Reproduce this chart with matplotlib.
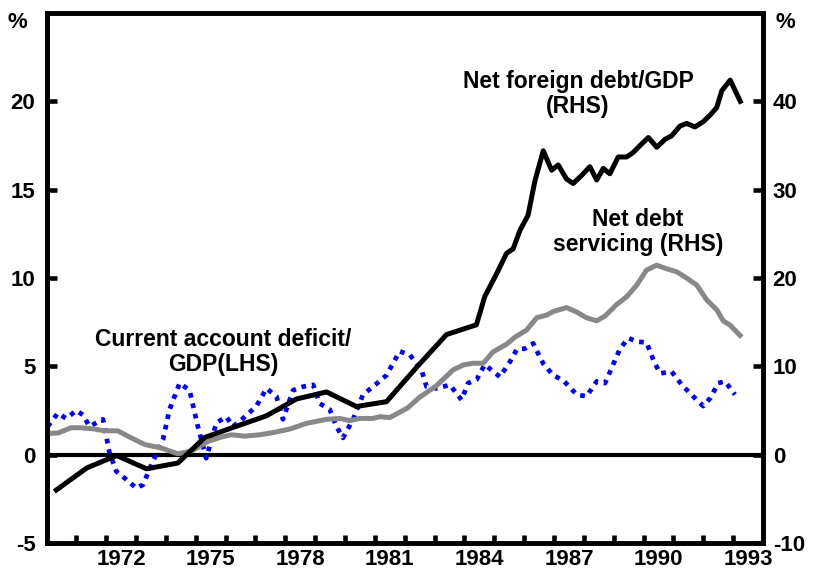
import matplotlib
matplotlib.use("Agg")
import matplotlib.pyplot as plt
import numpy as np

plt.rcParams['font.family'] = ['Liberation Sans', 'DejaVu Sans']
plt.rcParams['font.weight'] = 'bold'

# Net foreign debt / GDP (RHS, %)
nfd_x = [1970.33, 1971.35, 1972.35, 1973.35, 1974.40, 1975.30, 1976.35, 1977.37, 1978.37,
         1979.38, 1980.38, 1981.39, 1982.40, 1983.40, 1984.40,
         1984.68, 1985.08, 1985.41, 1985.63, 1985.86, 1986.13, 1986.36, 1986.64, 1986.92,
         1987.14, 1987.42, 1987.64, 1987.92, 1988.20, 1988.43, 1988.65, 1988.87, 1989.15,
         1989.43, 1989.65, 1989.94, 1990.16, 1990.44, 1990.72, 1990.94, 1991.22, 1991.44,
         1991.72, 1992.00, 1992.23, 1992.45, 1992.62, 1992.90, 1993.24]
nfd_y = [-4.0, -1.5, -0.1, -1.6, -0.95, 1.95, 3.2, 4.4, 6.3,
         7.1, 5.45, 6.0, 9.9, 13.6, 14.7,
         17.9, 20.5, 22.8, 23.3, 25.4, 27.1, 31.0, 34.4, 32.2,
         32.8, 31.2, 30.7, 31.6, 32.6, 31.1, 32.4, 31.8, 33.7,
         33.7, 34.2, 35.2, 35.9, 34.8, 35.7, 36.1, 37.2, 37.5,
         37.1, 37.7, 38.45, 39.3, 41.2, 42.4, 40.0]

# Net debt servicing (RHS, %)
nds_x = [1970.03, 1970.38, 1970.83, 1971.16, 1971.61, 1971.94, 1972.39, 1972.84, 1973.29,
         1973.85, 1974.40, 1974.85, 1975.41, 1975.86, 1976.19, 1976.64, 1977.14, 1977.59,
         1978.15, 1978.71, 1979.38, 1979.82, 1980.16, 1980.49, 1980.94, 1981.16, 1981.50,
         1981.83, 1982.10, 1982.50, 1983.06, 1983.62, 1983.96, 1984.29, 1984.63, 1984.96,
         1985.41, 1985.69, 1986.08, 1986.42, 1986.75, 1986.97, 1987.42, 1987.76, 1988.09,
         1988.43, 1988.71, 1989.10, 1989.44, 1989.77, 1990.10, 1990.44, 1990.77, 1991.11,
         1991.44, 1991.78, 1992.12, 1992.45, 1992.67, 1992.90, 1993.23]
nds_y = [2.4, 2.45, 3.05, 3.05, 2.9, 2.7, 2.7, 1.9, 1.15,
         0.75, 0.1, 0.4, 1.5, 2.0, 2.25, 2.1, 2.25, 2.5,
         2.9, 3.55, 4.0, 4.1, 3.85, 4.1, 4.1, 4.3, 4.2,
         4.8, 5.3, 6.5, 7.8, 9.6, 10.15, 10.35, 10.35, 11.65,
         12.5, 13.3, 14.1, 15.5, 15.8, 16.2, 16.65, 16.15, 15.5,
         15.15, 15.7, 17.0, 17.9, 19.2, 20.9, 21.45, 21.05, 20.7,
         20.0, 19.2, 17.5, 16.4, 15.15, 14.65, 13.5]

# Current account deficit / GDP (LHS, %)
cad_x = [1970.04, 1970.38, 1970.66, 1971.00, 1971.22, 1971.44, 1971.89, 1972.11, 1972.34,
         1972.67, 1973.01, 1973.23, 1973.56, 1973.90, 1974.12, 1974.46, 1974.79, 1975.07,
         1975.35, 1975.69, 1976.02, 1976.25, 1976.58, 1977.03, 1977.37, 1977.70, 1977.92,
         1978.26, 1978.59, 1978.93, 1979.15, 1979.49, 1979.71, 1979.93, 1980.27, 1980.60,
         1980.94, 1981.39, 1981.83, 1982.17, 1982.56, 1982.73, 1983.06, 1983.51, 1983.90,
         1984.12, 1984.41, 1984.68, 1985.19, 1985.52, 1985.75, 1986.02, 1986.30, 1986.64,
         1986.97, 1987.31, 1987.76, 1988.09, 1988.43, 1988.71, 1988.93, 1989.21, 1989.49,
         1989.77, 1990.10, 1990.33, 1990.55, 1990.94, 1991.28, 1991.72, 1992.00, 1992.23,
         1992.50, 1992.73, 1993.06]
cad_y = [1.6, 2.35, 2.05, 2.5, 2.25, 1.6, 2.0, 0.1, -0.95,
         -1.4, -1.9, -1.7, -0.4, 0.85, 2.55, 4.05, 3.65, 1.6,
         -0.2, 1.8, 2.15, 1.6, 2.05, 2.75, 3.75, 3.3, 2.0,
         3.65, 3.85, 3.95, 2.9, 2.55, 1.6, 0.95, 2.0, 3.4,
         3.85, 4.5, 5.85, 5.65, 4.8, 3.85, 3.75, 3.95, 3.1,
         4.05, 4.25, 5.1, 4.4, 5.25, 5.95, 6.0, 6.3, 5.15,
         4.5, 4.2, 3.4, 3.3, 4.15, 4.05, 4.9, 6.0, 6.6,
         6.4, 6.35, 5.35, 4.6, 4.7, 3.95, 3.2, 2.75, 3.2,
         4.05, 4.15, 3.4]

year_ticks = list(range(1971, 1994))
year_labels = ['1972', '1975', '1978', '1981', '1984', '1987', '1990', '1993']
left_ticks = [-5, 0, 5, 10, 15, 20]
right_ticks = [-10, 0, 10, 20, 30, 40]

W, H = 813, 572
fig = plt.figure(figsize=(W / 100, H / 100), dpi=100)
L, R, T, B = 46.5, 763, 13, 543
ax = fig.add_axes([L / W, 1 - B / H, (R - L) / W, (B - T) / H])
ax2 = ax.twinx()

spw = 3.3
ax.set_xlim(1970, 1994)
ax.set_ylim(-5, 25)
ax2.set_ylim(-10, 50)

ax.axhline(0, color='black', lw=3.0, zorder=1)
ax.plot(cad_x, cad_y, color='#0000ff', lw=3.4, linestyle=(0, (1.0, 1.25)),
        dash_capstyle='butt', zorder=2)
ax2.plot(nds_x, nds_y, color='#888888', lw=3.6, solid_joinstyle='round', zorder=2)
ax2.plot(nfd_x, nfd_y, color='black', lw=3.6, solid_joinstyle='round', zorder=3)

for a in (ax, ax2):
    for s in a.spines.values():
        s.set_linewidth(spw)
        s.set_color('black')

fs = 16
ax.set_yticks(left_ticks)
ax.set_yticklabels([str(v) for v in left_ticks], fontsize=fs, fontweight='bold')
ax.tick_params(axis='y', direction='in', length=7, width=spw, pad=8)
ax2.set_yticks(right_ticks)
ax2.set_yticklabels([str(v) for v in right_ticks], fontsize=fs, fontweight='bold')
ax2.tick_params(axis='y', direction='in', length=7, width=spw, pad=7)

ax.set_xticks(year_ticks)
ax.set_xticklabels([])
ax.set_xticks([int(y) + 0.5 for y in year_labels], minor=True)
ax.set_xticklabels(year_labels, minor=True, fontsize=fs, fontweight='bold')
ax.tick_params(axis='x', which='major', direction='in', length=6, width=spw)
ax.tick_params(axis='x', which='minor', length=0, pad=4)

fig.text(17 / W, 1 - 22 / H, '%', ha='center', va='center', fontsize=fs, fontweight='bold')
fig.text(785 / W, 1 - 22 / H, '%', ha='center', va='center', fontsize=fs, fontweight='bold')

afs = 16.5
fig.text(578 / W, 1 - 94 / H, 'Net foreign debt/GDP\n(RHS)', ha='center', va='center',
         fontsize=afs, fontweight='bold', linespacing=1.1)
fig.text(638 / W, 1 - 232 / H, 'Net debt\nservicing (RHS)', ha='center', va='center',
         fontsize=afs, fontweight='bold', linespacing=1.1)
fig.text(223 / W, 1 - 352 / H, 'Current account deficit/\nGDP(LHS)', ha='center', va='center',
         fontsize=afs, fontweight='bold', linespacing=1.1)

fig.savefig('out.png', dpi=100)
